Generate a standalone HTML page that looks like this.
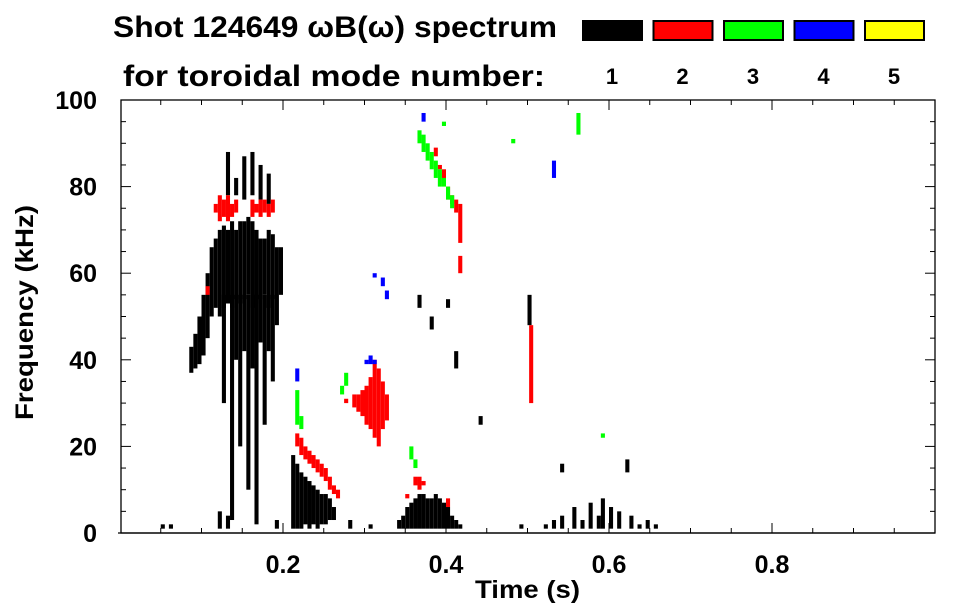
<!DOCTYPE html>
<html><head><meta charset="utf-8"><style>
html,body{margin:0;padding:0;background:#fff;}
svg{display:block;font-family:"Liberation Sans",Arial,sans-serif;font-weight:bold;}
</style></head><body>
<svg id="chart" width="963" height="615" viewBox="0 0 963 615" xmlns="http://www.w3.org/2000/svg">
<text x="113" y="37" font-size="30" textLength="444" lengthAdjust="spacingAndGlyphs">Shot 124649 ωB(ω) spectrum</text>
<text x="123" y="86" font-size="30" textLength="422" lengthAdjust="spacingAndGlyphs">for toroidal mode number:</text>
<g id="legend"></g>
<g id="marks"></g>
<g id="axes"></g>
<text x="475" y="598" font-size="25" textLength="105" lengthAdjust="spacingAndGlyphs">Time (s)</text>
<text transform="translate(33,420) rotate(-90)" font-size="25" textLength="215" lengthAdjust="spacingAndGlyphs">Frequency (kHz)</text>
</svg>
<script>
const modeLabels = ["1","2","3","4","5"];
const modeColors = ["#000000","#ff0000","#00ff00","#0000ff","#ffff00"];
const xTicks = [0.2,0.4,0.6,0.8];
const yTicks = [0,20,40,60,80,100];
// mode 1 (black): [time, fLow, fHigh]
const mode1 = [
[0.085,37,43],[0.090,38,46],[0.095,39,50],[0.100,41,55],[0.105,45,60],[0.110,50,66],
[0.115,52,68],[0.120,50,70],[0.125,52,71],[0.130,53,70],[0.135,52,72],[0.140,54,70],[0.145,53,72],
[0.150,54,72],[0.155,55,73],[0.160,52,72],[0.165,53,70],[0.170,54,68],[0.175,55,68],[0.180,52,70],
[0.185,54,69],[0.190,48,66],[0.195,55,66],
[0.130,78,88],[0.150,77,87],[0.160,78,88],[0.170,77,85],[0.180,76,83],[0.140,78,82],
[0.135,3,55],[0.145,20,55],[0.155,10,55],[0.165,2,55],[0.175,25,55],[0.185,35,55],[0.125,30,55],
[0.140,40,55],[0.150,42,55],[0.160,38,55],[0.170,44,55],[0.180,42,55],
[0.210,1,18],[0.215,1,16],[0.220,1,14],[0.225,2,13],[0.230,1,12],[0.235,2,11],[0.240,1,10],
[0.245,2,9],[0.250,2,9],[0.255,3,8],[0.260,3,6],
[0.340,1,3],[0.345,1,4],[0.350,1,6],[0.355,1,7],[0.360,1,8],[0.365,1,9],[0.370,1,9],[0.375,1,8],
[0.380,1,8],[0.385,1,9],[0.390,1,8],[0.395,1,7],[0.400,1,6],[0.405,1,4],[0.410,1,3],[0.415,1,2],
[0.050,1,2],[0.060,1,2],[0.120,1,5],[0.130,1,4],[0.280,1,3],[0.305,1,2],[0.190,1,3],[0.410,38,42],
[0.400,52,54],[0.440,25,27],[0.500,48,55],[0.490,1,2],[0.520,1,2],[0.530,1,3],[0.540,1,4],
[0.555,1,6],[0.565,1,3],[0.575,1,7],[0.585,1,4],[0.590,1,8],[0.600,1,6],[0.610,1,5],[0.625,1,4],
[0.635,1,2],[0.645,1,3],[0.655,1,2],[0.365,52,55],[0.380,47,50],[0.540,14,16],[0.620,14,17]
];
const mode2 = [
[0.115,74,76],[0.120,72,78],[0.125,73,77],[0.130,72,78],[0.135,73,76],[0.140,74,77],[0.160,73,77],
[0.165,74,76],[0.170,73,77],[0.175,74,77],[0.180,73,76],[0.185,74,77],[0.105,55,57],
[0.215,20,23],[0.220,18,22],[0.225,17,20],[0.230,16,19],[0.235,15,18],[0.240,14,17],[0.245,13,16],
[0.250,12,15],[0.255,10,13],[0.260,9,11],[0.265,8,10],
[0.275,30,31],[0.285,29,32],[0.290,28,32],[0.295,27,33],[0.300,25,34],[0.305,24,36],[0.310,22,40],
[0.315,20,38],[0.320,24,35],[0.325,26,32],
[0.360,11,13],[0.365,10,13],[0.370,11,12],[0.350,8,9],[0.400,6,8],
[0.385,87,89],[0.390,84,85],[0.395,81,84],[0.400,77,80],[0.405,76,78],[0.410,74,77],[0.415,67,76],
[0.415,60,64],[0.502,30,48]
];
const mode3 = [
[0.365,90,93],[0.370,88,92],[0.375,86,90],[0.380,84,88],[0.385,82,86],[0.390,80,84],[0.395,80,82],
[0.400,77,80],[0.405,75,78],[0.215,25,33],[0.220,24,27],[0.270,32,34],[0.275,34,37],[0.355,17,20],
[0.360,15,17],[0.395,94,95],[0.560,92,97],[0.480,90,91],[0.590,22,23]
];
const mode4 = [
[0.300,39,40],[0.305,39,41],[0.310,39,40],[0.310,59,60],[0.320,57,59],[0.325,54,56],[0.370,95,97],
[0.530,82,86],[0.215,35,38]
];
const mode5 = [];
const modes = [mode1,mode2,mode3,mode4,mode5];

const NS="http://www.w3.org/2000/svg";
const X0=121,X1=935,Y0=533,Y1=100;
const xs=t=>120+t*(X1-120);
const ys=f=>Y0-(f/100)*(Y0-Y1);
function el(tag,attrs,parent){const e=document.createElementNS(NS,tag);for(const k in attrs)e.setAttribute(k,attrs[k]);parent.appendChild(e);return e;}

const marks=document.getElementById('marks');
const dt=0.005;
modes.forEach((m,mi)=>{
  m.forEach(d=>{
    const r=el('rect',{x:xs(d[0]),y:ys(d[2]),width:xs(d[0]+dt)-xs(d[0]),height:Math.max(1,ys(d[1])-ys(d[2])),fill:modeColors[mi]},marks);
    
    
  });
});

const leg=document.getElementById('legend');
modeLabels.forEach((lab,i)=>{
  const x=582+i*70.5;
  const r=el('rect',{x:x+1,y:21,width:59,height:19,fill:modeColors[i],stroke:'#000','stroke-width':2},leg);
  
  
  const t=el('text',{x:x+30,y:84,'font-size':22,'text-anchor':'middle'},leg);
  t.textContent=lab;
  
  
});

const ax=document.getElementById('axes');
const frame=el('rect',{x:X0,y:Y1,width:X1-X0,height:Y0-Y1,fill:'none',stroke:'#000','stroke-width':1.3},ax);


el('line',{x1:X0-3,y1:Y0,x2:X1,y2:Y0,stroke:'#000','stroke-width':1.3},ax);
for(let k=1;k<20;k++){
  const t=k*0.05,x=xs(t),L=(k%4===0)?10:5;
  el('line',{x1:x,y1:Y0,x2:x,y2:Y0-L,stroke:'#000','stroke-width':1},ax);
  el('line',{x1:x,y1:Y1,x2:x,y2:Y1+L,stroke:'#000','stroke-width':1},ax);
}
for(let f=5;f<100;f+=5){
  const y=ys(f),L=(f%20===0)?10:5;
  el('line',{x1:X0,y1:y,x2:X0+L,y2:y,stroke:'#000','stroke-width':1},ax);
  el('line',{x1:X1,y1:y,x2:X1-L,y2:y,stroke:'#000','stroke-width':1},ax);
}
xTicks.forEach(v=>{
  const t=el('text',{x:xs(v),y:573,'font-size':25,'text-anchor':'middle'},ax);
  t.textContent=v.toFixed(1);
  
  
});
yTicks.forEach(v=>{
  const t=el('text',{x:97,y:ys(v)+9,'font-size':25,'text-anchor':'end'},ax);
  t.textContent=String(v);
  
  
});
</script>
</body></html>
